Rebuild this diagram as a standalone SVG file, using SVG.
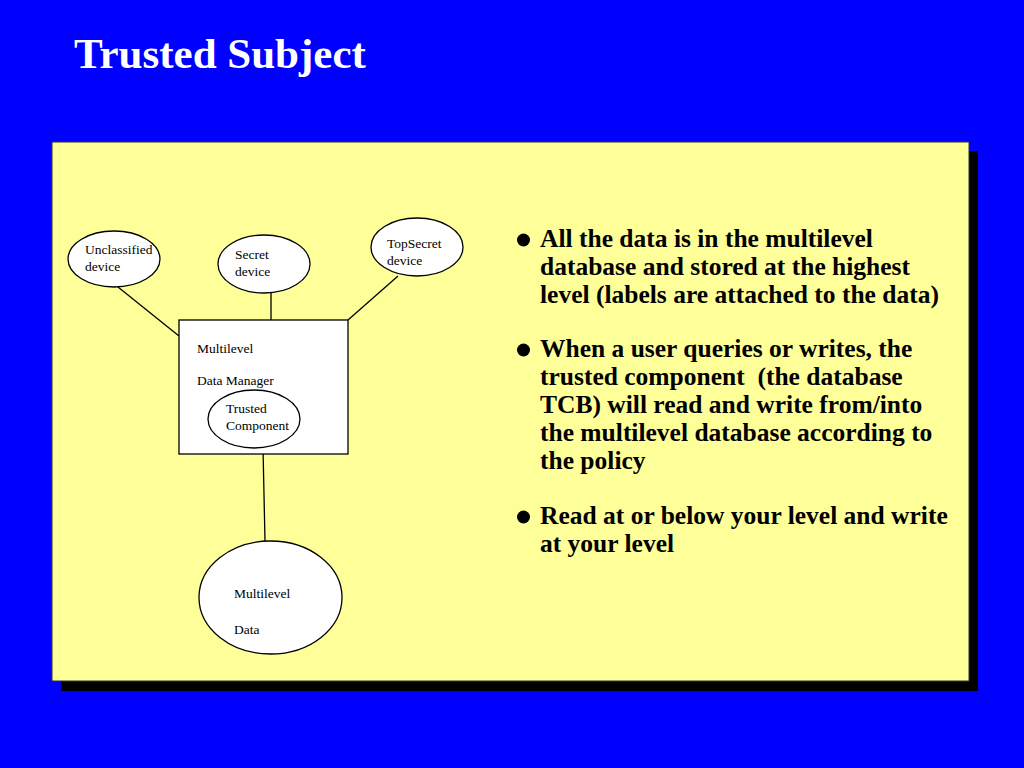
<svg xmlns="http://www.w3.org/2000/svg" width="1024" height="768" viewBox="0 0 1024 768">
<style>
.bg{fill:#0000ff}
.shadow{fill:#000000}
.panel{fill:#ffff99;stroke:#333333;stroke-width:1}
.node{fill:#ffffff;stroke:#000000;stroke-width:1.3}
.conn{stroke:#000000;stroke-width:1.3;fill:none}
.lbl{font-family:"Liberation Serif","Times New Roman",serif;font-size:13.5px;fill:#000000}
.title{font-family:"Liberation Serif","Times New Roman",serif;font-size:43px;font-weight:bold;fill:#ffffff}
.bul{font-family:"Liberation Serif","Times New Roman",serif;font-size:25.5px;font-weight:bold;fill:#000000}
</style>
<rect class="bg" x="0" y="0" width="1024" height="768"/>
<text class="title" x="74" y="68">Trusted Subject</text>
<rect class="shadow" x="61" y="151" width="917" height="540"/>
<rect class="panel" x="52" y="142" width="917" height="539"/>

<g id="connectors">
<line class="conn" x1="118" y1="287" x2="179" y2="336"/>
<line class="conn" x1="271" y1="293" x2="271" y2="320"/>
<line class="conn" x1="398" y1="276" x2="348" y2="320"/>
<line class="conn" x1="263" y1="448" x2="265" y2="541"/>
</g>

<g id="unclassified">
<ellipse class="node" cx="114" cy="259" rx="46" ry="28"/>
<text class="lbl" x="85" y="254">Unclassified</text>
<text class="lbl" x="85" y="271">device</text>
</g>
<g id="secret">
<ellipse class="node" cx="264" cy="264" rx="46" ry="29"/>
<text class="lbl" x="235" y="259">Secret</text>
<text class="lbl" x="235" y="276">device</text>
</g>
<g id="topsecret">
<ellipse class="node" cx="417" cy="247" rx="46" ry="29"/>
<text class="lbl" x="387" y="248">TopSecret</text>
<text class="lbl" x="387" y="265">device</text>
</g>
<g id="datamanager">
<rect class="node" x="179" y="320" width="169" height="134"/>
<text class="lbl" x="197" y="353">Multilevel</text>
<text class="lbl" x="197" y="385">Data Manager</text>
</g>
<g id="trusted">
<ellipse class="node" cx="254" cy="419" rx="46" ry="29"/>
<text class="lbl" x="226" y="413">Trusted</text>
<text class="lbl" x="226" y="430">Component</text>
</g>
<g id="multileveldata">
<ellipse class="node" cx="270.5" cy="597.5" rx="71.5" ry="56.5"/>
<text class="lbl" x="234" y="598">Multilevel</text>
<text class="lbl" x="234" y="634">Data</text>
</g>

<g id="bullets">
<circle cx="523.5" cy="240" r="6.5" fill="#000"/>
<text class="bul" x="540" y="247">All the data is in the multilevel</text>
<text class="bul" x="540" y="275">database and stored at the highest</text>
<text class="bul" x="540" y="303">level (labels are attached to the data)</text>
<circle cx="523.5" cy="350" r="6.5" fill="#000"/>
<text class="bul" x="540" y="357">When a user queries or writes, the</text>
<text class="bul" x="540" y="385" xml:space="preserve">trusted component  (the database</text>
<text class="bul" x="540" y="413">TCB) will read and write from/into</text>
<text class="bul" x="540" y="441">the multilevel database according to</text>
<text class="bul" x="540" y="469">the policy</text>
<circle cx="523.5" cy="517" r="6.5" fill="#000"/>
<text class="bul" x="540" y="524">Read at or below your level and write</text>
<text class="bul" x="540" y="552">at your level</text>
</g>
</svg>
